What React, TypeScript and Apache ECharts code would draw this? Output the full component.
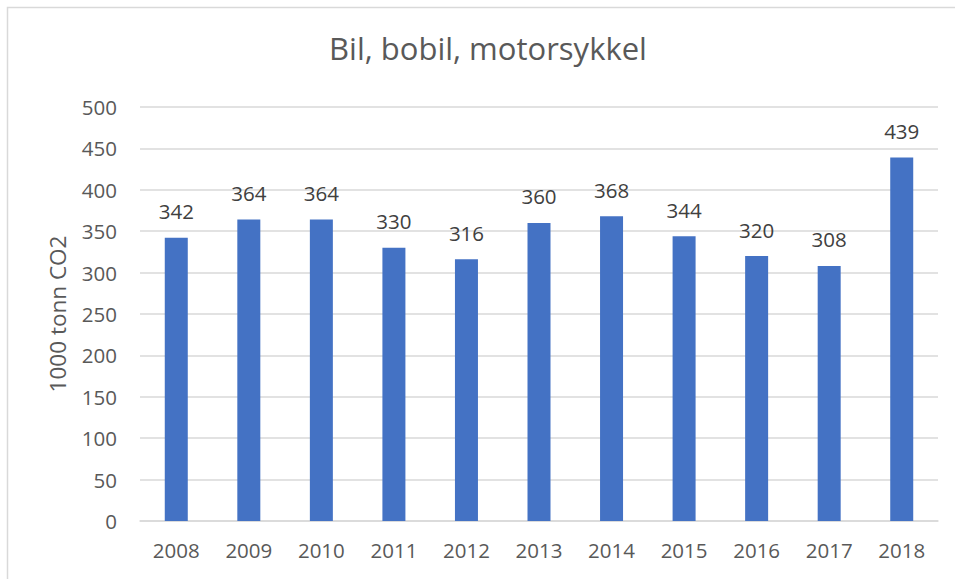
import React, { useEffect, useRef } from "react";
import * as echarts from "echarts";

const titleText = "Bil, bobil, motorsykkel";
const yAxisName = "1000 tonn CO2";
const years = ["2008", "2009", "2010", "2011", "2012", "2013", "2014", "2015", "2016", "2017", "2018"];
const emissions = [342, 364, 364, 330, 316, 360, 368, 344, 320, 308, 439];

const FONT = "'Open Sans', 'Noto Sans', sans-serif";

export default function App() {
  const ref = useRef<HTMLDivElement>(null);
  useEffect(() => {
    document.body.style.margin = "0";
    const chart = echarts.init(ref.current!, null, { renderer: "svg" });
    chart.setOption({
      animation: false,
      backgroundColor: "#ffffff",
      textStyle: { fontFamily: FONT },
      graphic: [
        {
          type: "rect",
          shape: { x: 7.5, y: 7.5, width: 1100, height: 1100 },
          style: { fill: "none", stroke: "#d9d9d9", lineWidth: 1.5 },
          silent: true,
        },
      ],
      title: {
        text: titleText,
        left: 483,
        textAlign: "center",
        top: 27,
        textStyle: { fontFamily: FONT, fontSize: 31, fontWeight: "normal", color: "#595959" },
      },
      grid: { left: 140, right: 17, top: 107, bottom: 58, containLabel: false },
      xAxis: {
        type: "category",
        data: years,
        axisLine: { show: true, lineStyle: { color: "#d9d9d9", width: 1.5 } },
        axisTick: { show: false },
        axisLabel: { color: "#595959", fontSize: 20.5, fontFamily: FONT, margin: 18 },
      },
      yAxis: {
        type: "value",
        min: 0,
        max: 500,
        interval: 50,
        name: yAxisName,
        nameLocation: "middle",
        nameGap: 71,
        nameRotate: 90,
        nameTextStyle: { color: "#595959", fontSize: 22.5, fontFamily: FONT },
        axisLine: { show: false },
        axisTick: { show: false },
        splitLine: { lineStyle: { color: "#d9d9d9", width: 1.5 } },
        axisLabel: { color: "#595959", fontSize: 20.5, fontFamily: FONT, margin: 23 },
      },
      series: [
        {
          type: "bar",
          data: emissions,
          barWidth: 23,
          itemStyle: { color: "#4472C4" },
          label: {
            show: true,
            position: "top",
            distance: 16,
            color: "#404040",
            fontSize: 20.5,
            fontFamily: FONT,
          },
        },
      ],
    });
    return () => chart.dispose();
  }, []);
  return <div ref={ref} style={{ width: 955, height: 579 }} />;
}
